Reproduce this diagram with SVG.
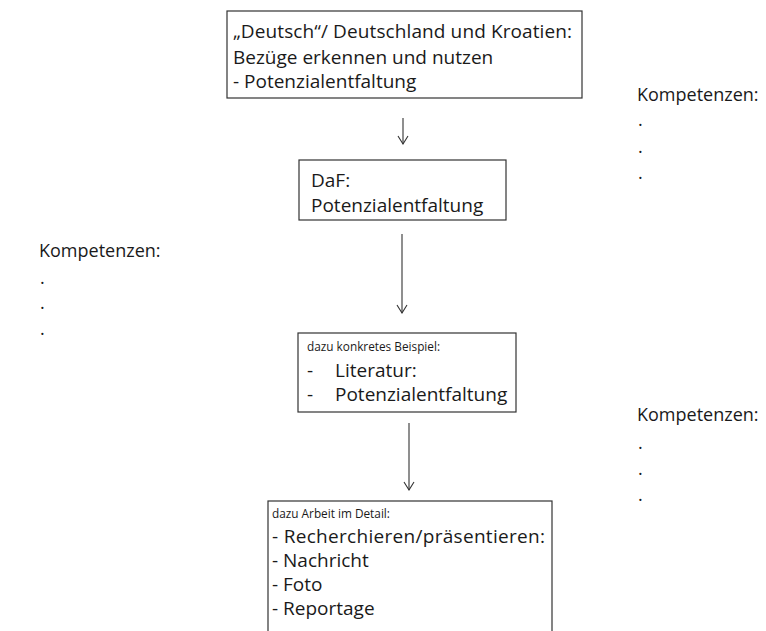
<svg xmlns="http://www.w3.org/2000/svg" width="766" height="631" viewBox="0 0 766 631">
<style>
.box{fill:#fff;stroke:#333;stroke-width:1.2}
.t{font-family:"Open Sans",Lato,"Liberation Sans",sans-serif;font-size:19px;fill:#1a1a1a}
.k{font-family:"Open Sans",Lato,"Liberation Sans",sans-serif;font-size:18px;fill:#1a1a1a}
.s{font-family:"Open Sans",Lato,"Liberation Sans",sans-serif;font-size:11.8px;fill:#1a1a1a}
.c{stroke:#333;stroke-width:1.1;fill:none}
</style>
<defs>
<marker id="arr" markerWidth="10" markerHeight="12" refX="9" refY="6" orient="auto" markerUnits="userSpaceOnUse" viewBox="0 0 10 12">
<polyline points="1,1 9,6 1,11" fill="none" stroke="#333" stroke-width="1.1"/>
</marker>
</defs>
<rect width="766" height="631" fill="#fff"/>
<g id="connectors">
<line class="c" x1="403" y1="118" x2="403" y2="144" marker-end="url(#arr)"/>
<line class="c" x1="402" y1="234" x2="402" y2="313" marker-end="url(#arr)"/>
<line class="c" x1="409" y1="423" x2="409" y2="490" marker-end="url(#arr)"/>
</g>
<g id="node-deutsch">
<rect class="box" x="227" y="11" width="355" height="87"/>
<text class="t" x="233" y="38" textLength="339">„Deutsch“/ Deutschland und Kroatien:</text>
<text class="t" x="233" y="64">Bezüge erkennen und nutzen</text>
<text class="t" x="233" y="88">- Potenzialentfaltung</text>
</g>
<g id="node-daf">
<rect class="box" x="299" y="160" width="207" height="60"/>
<text class="t" x="311" y="187">DaF:</text>
<text class="t" x="311" y="212">Potenzialentfaltung</text>
</g>
<g id="node-beispiel">
<rect class="box" x="298" y="333" width="218" height="79"/>
<text class="s" x="307" y="351">dazu konkretes  Beispiel:</text>
<text class="t" x="307" y="377">-</text>
<text class="t" x="335" y="377">Literatur:</text>
<text class="t" x="307" y="401">-</text>
<text class="t" x="335" y="401">Potenzialentfaltung</text>
</g>
<g id="node-detail">
<rect class="box" x="268" y="501" width="284" height="140"/>
<text class="s" x="272" y="518">dazu Arbeit im Detail:</text>
<text class="t" x="272" y="543" textLength="273">- Recherchieren/präsentieren:</text>
<text class="t" x="272" y="567">- Nachricht</text>
<text class="t" x="272" y="591">- Foto</text>
<text class="t" x="272" y="615">- Reportage</text>
</g>
<g id="komp-right-top">
<text class="k" x="637" y="101">Kompetenzen:</text>
<text class="k" x="638" y="126">.</text>
<text class="k" x="638" y="153">.</text>
<text class="k" x="638" y="179">.</text>
</g>
<g id="komp-left">
<text class="k" x="39" y="257">Kompetenzen:</text>
<text class="k" x="40" y="284">.</text>
<text class="k" x="40" y="309">.</text>
<text class="k" x="40" y="335">.</text>
</g>
<g id="komp-right-bottom">
<text class="k" x="637" y="421">Kompetenzen:</text>
<text class="k" x="638" y="449">.</text>
<text class="k" x="638" y="475">.</text>
<text class="k" x="638" y="501">.</text>
</g>
</svg>
